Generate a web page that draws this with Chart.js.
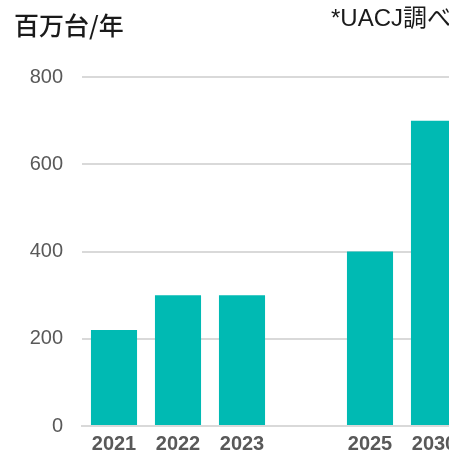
<!DOCTYPE html>
<html>
<head>
<meta charset="utf-8">
<script src="https://cdn.jsdelivr.net/npm/chart.js@4/dist/chart.umd.min.js"></script>
<style>
  html, body { margin: 0; padding: 0; background: #fff; overflow: hidden; width: 449px; height: 450px; }
  .wrap { position: relative; width: 449px; height: 450px; overflow: hidden; }
  canvas { position: absolute; left: 0; top: 0; }
  .unit { position: absolute; left: 14px; top: 6px; font: 500 25px "Noto Sans CJK JP", sans-serif; color: #1a1a1a; }
  .src { position: absolute; left: 331px; top: -2px; font: 24px "Liberation Sans", "Noto Sans CJK JP", sans-serif; color: #1a1a1a; white-space: nowrap; }
</style>
</head>
<body>
<div class="wrap">
  <canvas id="c" width="480" height="470"></canvas>
  <div class="unit">百万台/年</div>
  <div class="src">*UACJ調べ</div>
</div>
<script>
// data
const years = ['2021', '2022', '2023', '', '2025', '2030'];
const units = [220, 300, 300, null, 400, 700];
const yTicks = [0, 200, 400, 600, 800];

new Chart(document.getElementById('c'), {
    type: 'bar',
    data: {
        labels: years,
        datasets: [{
            data: units,
            backgroundColor: '#00bab3',
            barPercentage: 0.72,
            categoryPercentage: 1.0
        }]
    },
    options: {
        responsive: false,
        animation: false,
        layout: { padding: { top: 77, right: 14, left: 0, bottom: 0 } },
        plugins: { legend: { display: false }, tooltip: { enabled: false } },
        scales: {
            x: {
                grid: { display: false, drawTicks: false },
                border: { color: '#d9d9d9', width: 2 },
                ticks: {
                    color: '#595959',
                    padding: 6,
                    maxRotation: 0,
                    font: { family: 'Liberation Sans', size: 20, weight: 'bold' }
                },
                afterFit: s => { s.height = 44; }
            },
            y: {
                min: 0,
                max: 800,
                afterBuildTicks: s => { s.ticks = yTicks.map(v => ({ value: v })); },
                grid: { color: '#d9d9d9', lineWidth: 2, drawTicks: false },
                border: { display: false },
                ticks: {
                    color: '#595959',
                    padding: 19,
                    font: { family: 'Liberation Sans', size: 20 }
                },
                afterFit: s => { s.width = 82; }
            }
        }
    }
});
</script>
</body>
</html>
